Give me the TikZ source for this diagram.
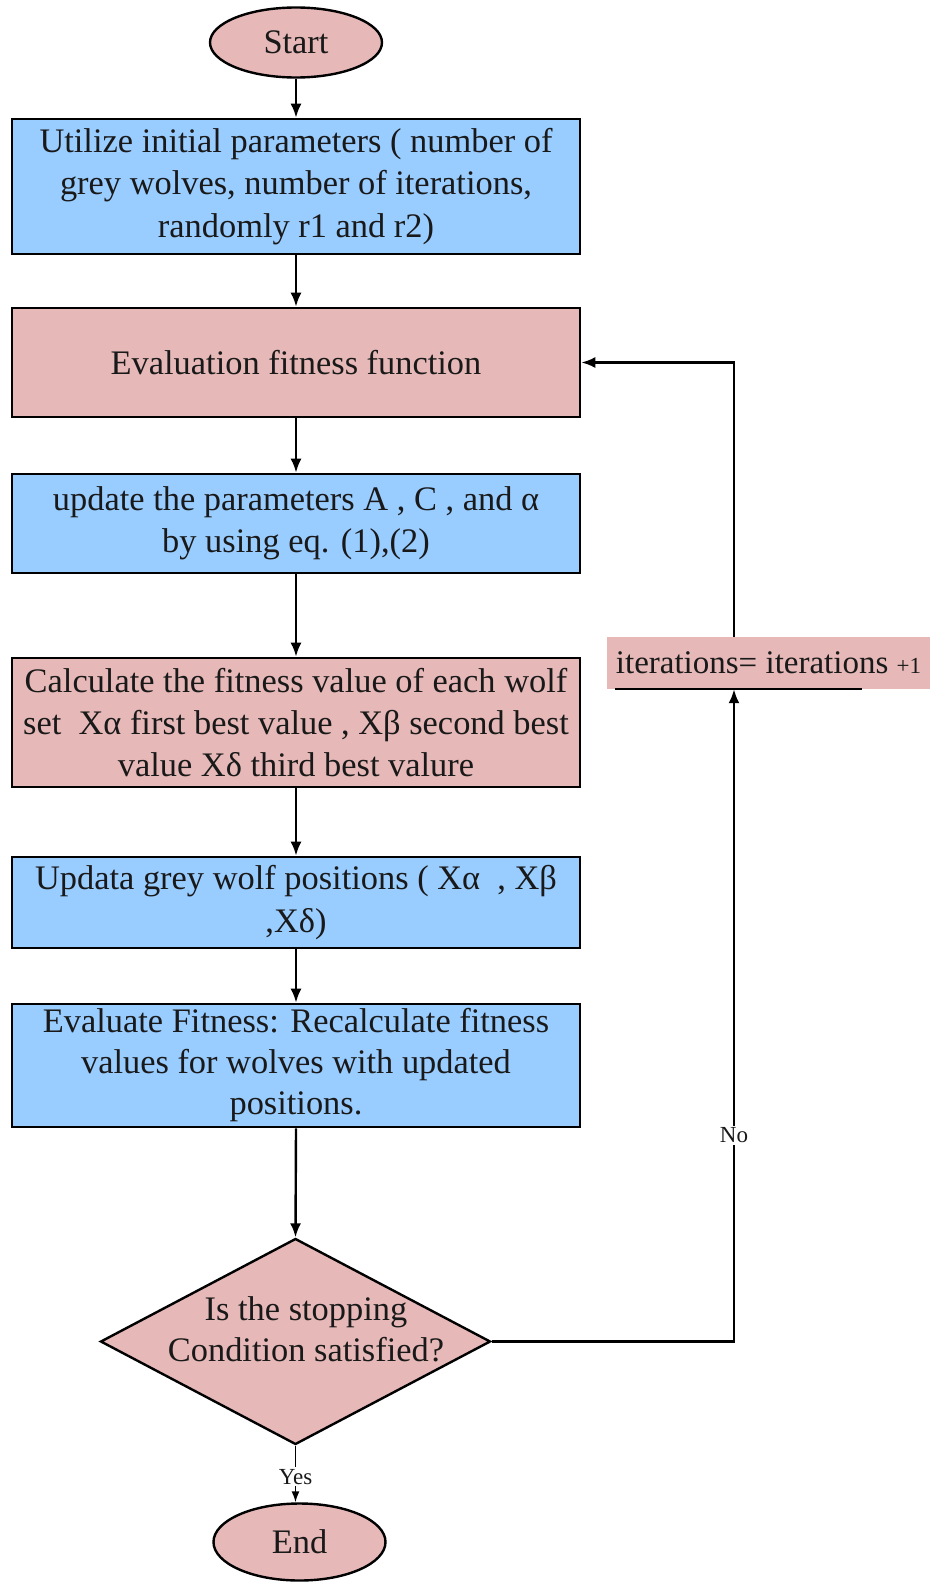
\documentclass[tikz,border=0pt]{standalone}
\usepackage{fontspec}
\setmainfont{Liberation Serif}
\usetikzlibrary{shapes.geometric,arrows.meta}
\definecolor{boxblue}{RGB}{153,204,255}
\definecolor{boxpink}{RGB}{230,185,184}

\begin{document}
\begin{tikzpicture}[x=1pt,y=-1pt,
  every node/.style={font=\fontsize{34.4}{42.4}\selectfont, inner sep=0pt, text=black!90},
  procbox/.style={draw=black, line width=2.6pt, minimum width=568pt, align=center},
  bluebox/.style={procbox, fill=boxblue},
  pinkbox/.style={procbox, fill=boxpink},
  terminal/.style={ellipse, draw=black, line width=2.4pt, fill=boxpink,
                   minimum width=172pt, minimum height=70pt},
  decision/.style={diamond, draw=black, line width=2.4pt, fill=boxpink,
                   minimum width=390pt, minimum height=206pt},
  flow/.style={line width=2.4pt, -{Latex[length=14pt,width=11pt]}},
  thinflow/.style={line width=1.6pt, -{Latex[length=11pt,width=8pt]}},
  edgelabel/.style={font=\fontsize{23}{26}\selectfont, fill=white, inner sep=2pt}
]
\useasboundingbox (0,0) rectangle (930,1582);

% main column
\node[terminal] (start) at (296,42.5) {Start};
\node[bluebox, minimum height=135pt] (init) at (296,186.5)
  {Utilize initial parameters ( number of\\grey wolves, number of iterations,\\randomly r1 and r2)};
\node[pinkbox, minimum height=109pt] (evalfit) at (296,362.5)
  {Evaluation fitness function};
\node[bluebox, minimum height=99pt] (update) at (296,523.5)
  {update the parameters A , C , and α\\by using eq. (1),(2)};
\node[pinkbox, minimum height=129pt] (calc) at (296,722.5)
  {Calculate the fitness value of each wolf\\set\ \ Xα first best value , Xβ second best\\value Xδ third best valure};
\node[bluebox, minimum height=91pt] (positions) at (296,902.5)
  {Updata grey wolf positions ( Xα\ \ , Xβ\\,Xδ)};
\node[bluebox, minimum height=123pt, font=\fontsize{34.4}{41}\selectfont] (reeval) at (296,1065.5)
  {Evaluate Fitness: Recalculate fitness\\values for wolves with updated\\positions.};
\node[decision] (check) at (295.5,1341.5) {};
\node[align=center, font=\fontsize{34.4}{41}\selectfont] (checktext) at (306,1329.5)
  {Is the stopping\\Condition satisfied?};
\node[terminal, minimum height=77pt] (end) at (299.5,1542) {End};

% loop-back label
\node[fill=boxpink, minimum width=323pt, minimum height=52pt,
      font=\fontsize{33}{40}\selectfont] (iter) at (768.5,663)
  {iterations= iterations {\fontsize{23}{26}\selectfont +1}};
\draw[line width=2pt] ([xshift=8pt]iter.south west) -- ([xshift=255pt]iter.south west);
\coordinate (loopin) at ([xshift=-34.5pt]iter.south);
\coordinate (loopout) at ([xshift=-34.5pt]iter.north);

% connectors
\draw[flow] (start) -- (init);
\draw[flow] (init) -- (evalfit);
\draw[flow] (evalfit) -- (update);
\draw[flow] (update) -- (calc);
\draw[flow] (calc) -- (positions);
\draw[flow] (positions) -- (reeval);
\draw[flow] (reeval.south) -- (check.north);
\draw[thinflow] (check.south) -- node[edgelabel, pos=0.55] {Yes} (check.south |- end.north);
\draw[flow] (check.east) -| node[edgelabel, pos=0.658] {No} (loopin);
\draw[flow] (loopout) |- (evalfit.east);
\end{tikzpicture}
\end{document}
